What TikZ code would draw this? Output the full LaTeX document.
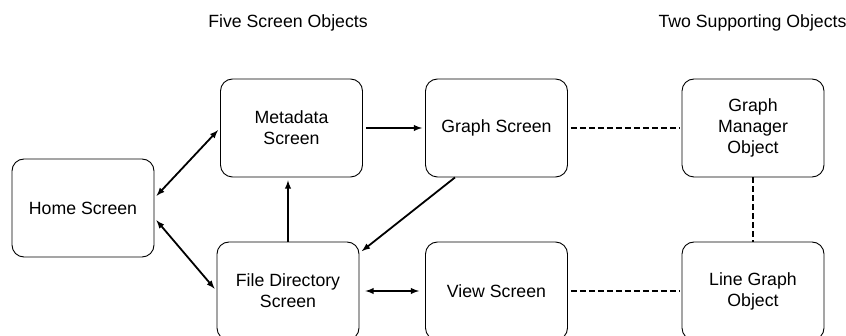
\documentclass[tikz,border=0pt]{standalone}
\usepackage{fontspec}
\setmainfont{Liberation Sans}
\usepackage{tikz}
\usetikzlibrary{shapes,arrows,positioning}

\begin{document}
\begin{tikzpicture}[x=1pt, y=-1pt, >=latex]
		\tikzstyle{Box} 	= [rectangle, draw, rounded corners=12pt, line width=0.9pt, minimum width=142pt, minimum height=98pt, align=center, font=\fontsize{17.7}{21}\selectfont]
		\tikzstyle{Title}	= [font=\fontsize{17.7}{21}\selectfont]
		\tikzstyle{Nav}		= [line width=1.8pt, shorten >=3pt, shorten <=3pt]
		\tikzstyle{Dep}		= [line width=1.4pt, dash pattern=on 6pt off 3pt]

		\useasboundingbox (0, 0) rectangle (846, 336);

		\node (t1) at (288, 23) [Title] {Five Screen Objects};
		\node (t2) at (752.5, 23) [Title] {Two Supporting Objects};

		\node (home) at (83, 208) [Box] {Home Screen};
		\node (meta) at (291.5, 128) [Box] {Metadata\\Screen};
		\node (fdir) at (288, 291) [Box] {File Directory\\Screen};
		\node (graph) at (496.5, 128) [Box] {Graph Screen};
		\node (view) at (496.5, 291) [Box] {View Screen};
		\node (gmo) at (753, 128) [Box] {Graph\\Manager\\Object};
		\node (lgo) at (753, 291) [Box] {Line Graph\\Object};

		\draw [<->] ([yshift=10pt]home.east) to (meta.west) [Nav];
		\draw [<->] ([yshift=-10pt]home.east) to (fdir.west) [Nav];
		\draw [->] (meta.east) to (graph.west) [Nav];
		\draw [->] (fdir.north) to (fdir.north |- meta.south) [Nav, shorten <=0pt];
		\draw [->] (graph.230) to (fdir.28) [Nav, shorten <=0pt];
		\draw [<->] (fdir.east) to (view.west) [Nav, shorten <=6pt, shorten >=6pt];

		\draw [-] (graph.east) to (gmo.west) [Dep, shorten <=3pt, shorten >=2pt];
		\draw [-] (gmo.south) to (lgo.north) [Dep];
		\draw [-] (view.east) to (lgo.west) [Dep, shorten <=3pt, shorten >=2pt];
\end{tikzpicture}
\end{document}
